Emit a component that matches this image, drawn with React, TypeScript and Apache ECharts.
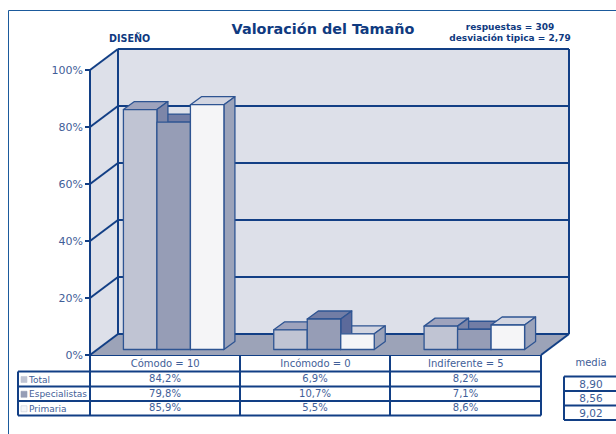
import React, { useEffect, useRef } from "react";
import * as echarts from "echarts";

const categories = ["Cómodo = 10", "Incómodo = 0", "Indiferente = 5"];
const seriesNames = ["Total", "Especialistas", "Primaria"];
const totalValues = [84.2, 6.9, 8.2];
const especialistasValues = [79.8, 10.7, 7.1];
const primariaValues = [85.9, 5.5, 8.6];
const mediaValues = ["8,90", "8,56", "9,02"];
const yTicks = [0, 20, 40, 60, 80, 100];

const frontColors = ["#C0C4D3", "#969DB6", "#F5F5F7"];
const topColors = ["#9EA3BD", "#727DA5", "#D2D5E1"];
const sideColors = ["#7D86A8", "#5C6A9B", "#9BA3BA"];
const navy = "#123F85";
const barEdge = "#2E5492";
const textBlue = "#3F5E98";
const font = "'DejaVu Sans', Verdana, sans-serif";

const L = 90, R = 541, T = 70, B = 355, DX = 28, DY = -21;
const BAR_W = 33.5, BAR_DX = 11, BAR_DY = -8, BAR_LIFT = 5.5;
const rowY = [355, 371.5, 386.5, 401, 415.5];
const colX = [18, 90, 240, 390, 541];
const mediaY = [376.5, 391, 405.5, 420];

const line = (x1: number, y1: number, x2: number, y2: number, w = 2, color = navy) => ({
  type: "line",
  shape: { x1, y1, x2, y2 },
  style: { stroke: color, lineWidth: w },
});
const label = (x: number, y: number, text: string, align = "center", size = 10, weight = "normal", fill = textBlue) => ({
  type: "text",
  x,
  y,
  style: { text, fill, font: `${weight} ${size}px ${font}`, align, verticalAlign: "middle" },
});

function barSeries(name: string, values: number[], s: number) {
  return {
    type: "custom",
    name,
    silent: true,
    clip: false,
    z: 3,
    encode: { x: 0, y: 1 },
    data: values.map((v, i) => [i, v]),
    renderItem: (_p: any, api: any) => {
      const v = api.value(1);
      const [cx, yTop] = api.coord([api.value(0), v]);
      const [, yBase] = api.coord([api.value(0), 0]);
      const x0 = cx + 8.5 + (s - 1.5) * BAR_W;
      const x1 = x0 + BAR_W;
      const top = yTop - BAR_LIFT;
      const base = yBase - BAR_LIFT;
      const z2 = Math.round(v * 10);
      const style = (fill: string) => ({ fill, stroke: barEdge, lineWidth: 1.3, lineJoin: "round" });
      return {
        type: "group",
        children: [
          {
            type: "polygon", z2,
            shape: { points: [[x0, top], [x0 + BAR_DX, top + BAR_DY], [x1 + BAR_DX, top + BAR_DY], [x1, top]] },
            style: style(topColors[s]),
          },
          {
            type: "polygon", z2,
            shape: { points: [[x1, top], [x1 + BAR_DX, top + BAR_DY], [x1 + BAR_DX, base + BAR_DY], [x1, base]] },
            style: style(sideColors[s]),
          },
          {
            type: "rect", z2: 5000,
            shape: { x: x0, y: top, width: BAR_W, height: base - top },
            style: style(frontColors[s]),
          },
        ],
      };
    },
  };
}

const wallSeries = {
  type: "custom",
  name: "walls",
  silent: true,
  clip: false,
  z: 1,
  encode: { x: 0, y: 1 },
  data: yTicks.map((t) => [0, t]),
  renderItem: (_p: any, api: any) => {
    const tick = api.value(1);
    const y = api.coord([0, tick])[1];
    const children: any[] = [];
    if (tick === 0) {
      const yTop = api.coord([0, 100])[1];
      children.push(
        { type: "polygon", z2: 0, shape: { points: [[L, yTop], [L + DX, yTop + DY], [L + DX, y + DY], [L, y]] }, style: { fill: "#DDE0E9" } },
        { type: "rect", z2: 0, shape: { x: L + DX, y: yTop + DY, width: R - L, height: y - yTop }, style: { fill: "#DDE0E9" } },
        { type: "polygon", z2: 1, shape: { points: [[L, y], [L + DX, y + DY], [R + DX, y + DY], [R, y]] }, style: { fill: "#9CA3B8" } },
        { ...line(L + DX, yTop + DY, L + DX, y + DY), z2: 3 },
        { ...line(R + DX, yTop + DY, R + DX, y + DY), z2: 3 },
        { ...line(R, y, R + DX, y + DY), z2: 3 }
      );
    }
    children.push(
      { ...line(L, y, L + DX, y + DY), z2: 2 },
      { ...line(L + DX, y + DY, R + DX, y + DY), z2: 2 }
    );
    return { type: "group", children };
  },
};

const swatchColors = frontColors;
const allValues = [totalValues, especialistasValues, primariaValues];
const fmt = (v: number) => v.toFixed(1).replace(".", ",") + "%";

const tableGraphics: any[] = [
  {
    type: "rect",
    shape: { x: 8.5, y: 10.5, width: 640, height: 460 },
    style: { fill: "none", stroke: "#1B5A9C", lineWidth: 1 },
    silent: true,
    z: -10,
  },
  label(323, 29, "Valoración del Tamaño", "center", 14.4, "bold", "#0F3A80"),
  label(109, 38, "DISEÑO", "left", 9.6, "bold", "#0F3A80"),
  label(510, 27, "respuestas = 309", "center", 9, "bold", "#0F3A80"),
  label(510, 38, "desviación tipica = 2,79", "center", 9, "bold", "#0F3A80"),
  line(L, rowY[0], R, rowY[0]),
  line(colX[0], rowY[1], R, rowY[1]),
  line(colX[0], rowY[2], R, rowY[2]),
  line(colX[0], rowY[3], R, rowY[3]),
  line(colX[0], rowY[4], R, rowY[4]),
  line(colX[0], rowY[1], colX[0], rowY[4]),
  line(colX[1], rowY[0], colX[1], rowY[4]),
  line(colX[2], rowY[0], colX[2], rowY[4]),
  line(colX[3], rowY[0], colX[3], rowY[4]),
  line(colX[4], rowY[0], colX[4], rowY[4]),
  label(591, 362, "media"),
  line(564, mediaY[0], 564, mediaY[3]),
  ...mediaY.map((y) => line(564, y, 616, y)),
];

seriesNames.forEach((name, s) => {
  const cy = (rowY[s + 1] + rowY[s + 2]) / 2 + 0.5;
  tableGraphics.push({
    type: "rect",
    shape: { x: 21, y: cy - 3, width: 6, height: 6 },
    style: { fill: swatchColors[s], stroke: s === 2 ? "#C8CCD8" : swatchColors[s], lineWidth: 0.6 },
  });
  tableGraphics.push(label(29, cy, name, "left", 9));
  allValues[s].forEach((v, c) => {
    tableGraphics.push(label((colX[c + 1] + colX[c + 2]) / 2, cy - 1, fmt(v)));
  });
  tableGraphics.push(label(591, (mediaY[s] + mediaY[s + 1]) / 2, mediaValues[s], "center", 10.5));
});

export default function App() {
  const ref = useRef<HTMLDivElement>(null);
  useEffect(() => {
    document.body.style.margin = "0";
    const chart = echarts.init(ref.current!, null, { renderer: "svg" });
    chart.setOption({
      animation: false,
      backgroundColor: "#FFFFFF",
      grid: { left: L, right: 616 - R, top: T, bottom: 434 - B },
      xAxis: {
        type: "category",
        data: categories,
        axisLine: { show: false },
        axisTick: { show: false },
        splitLine: { show: false },
        axisLabel: { margin: 3, color: textBlue, fontSize: 10, fontFamily: font, interval: 0 },
      },
      yAxis: {
        type: "value",
        z: 5,
        min: 0,
        max: 100,
        interval: 20,
        axisLine: { show: true, lineStyle: { color: navy, width: 2 } },
        axisTick: { show: true, length: 5, lineStyle: { color: navy, width: 2 } },
        splitLine: { show: false },
        axisLabel: { margin: 7, color: textBlue, fontSize: 11, fontFamily: font, formatter: "{value}%" },
      },
      graphic: { elements: tableGraphics },
      series: [
        wallSeries,
        barSeries(seriesNames[0], totalValues, 0),
        barSeries(seriesNames[1], especialistasValues, 1),
        barSeries(seriesNames[2], primariaValues, 2),
      ],
    });
    return () => chart.dispose();
  }, []);
  return <div ref={ref} style={{ position: "absolute", left: 0, top: 0, width: 616, height: 434, overflow: "hidden" }} />;
}
